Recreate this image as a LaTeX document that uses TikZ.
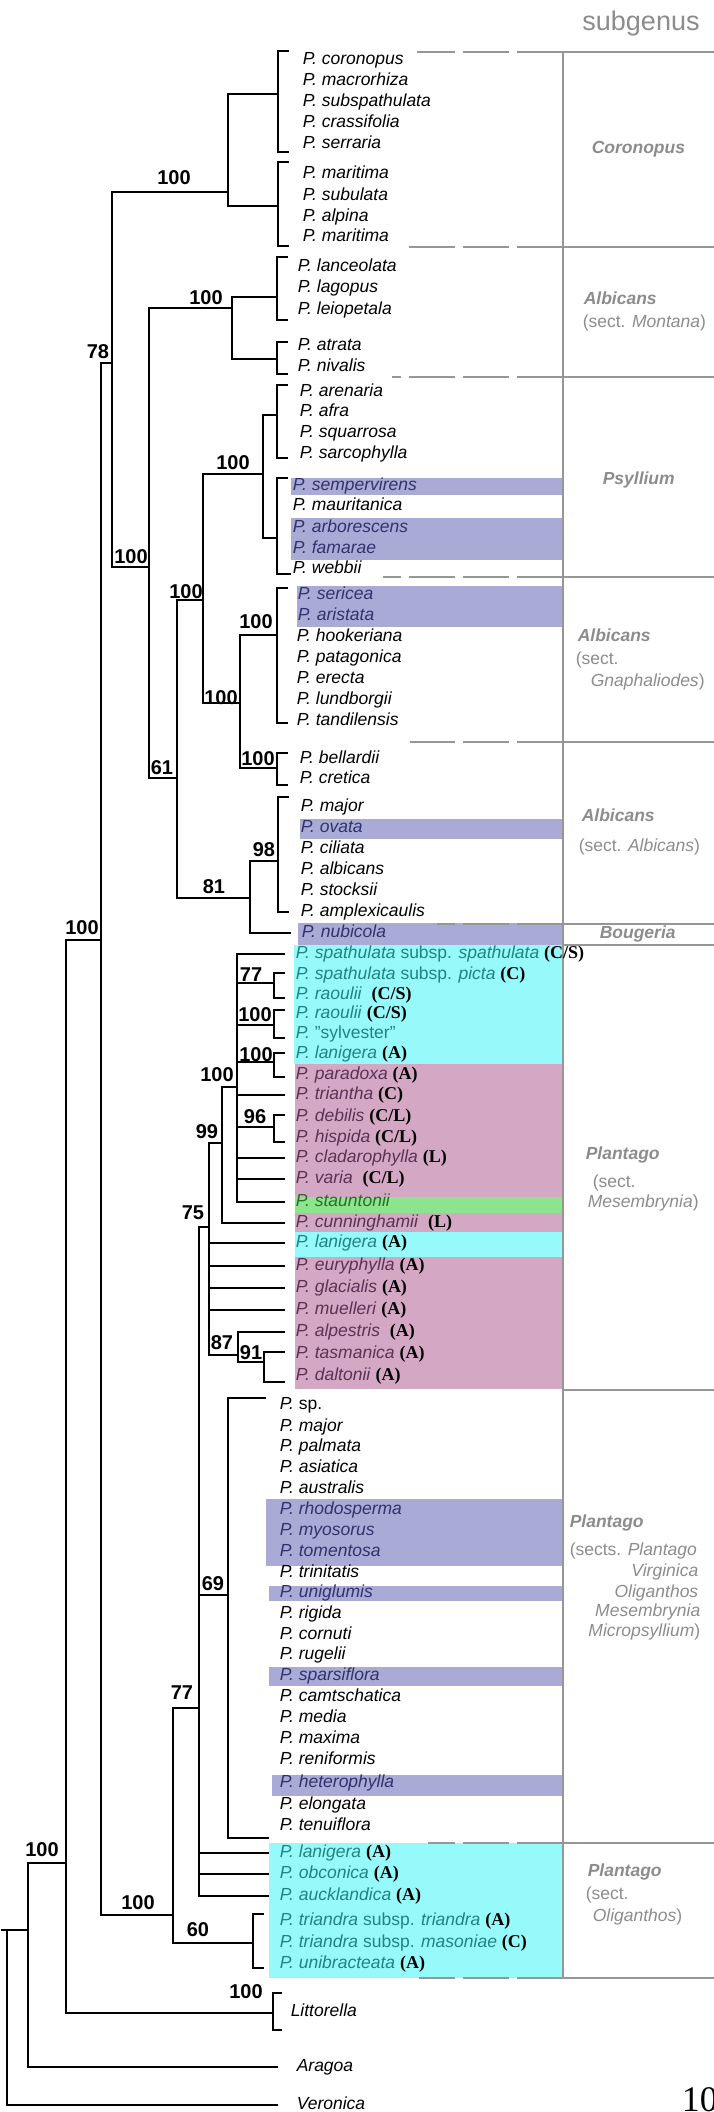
\documentclass[tikz,border=0pt]{standalone}
\usepackage{fontspec}
\setmainfont{Liberation Sans}
\newfontfamily\tnr{Liberation Serif}
\definecolor{hlpurple}{RGB}{170,170,214}
\definecolor{hlcyan}{RGB}{150,250,250}
\definecolor{hlpink}{RGB}{212,168,196}
\definecolor{hlgreen}{RGB}{140,228,140}
\definecolor{txpurple}{RGB}{50,50,110}
\definecolor{txcyan}{RGB}{35,130,130}
\definecolor{txpink}{RGB}{90,50,85}
\definecolor{txgreen}{RGB}{40,110,40}
\definecolor{subgray}{RGB}{140,140,140}
\definecolor{linegray}{RGB}{150,150,150}
\newcommand{\mk}[1]{{\color{black}\tnr\bfseries\fontsize{18}{20}\selectfont #1}}
\begin{document}
\begin{tikzpicture}[x=1pt, y=-1pt, line width=1.5pt,
  taxon/.style={anchor=west, inner sep=0pt, text height=12.5pt, text depth=3.7pt, font=\fontsize{17.5}{20}\selectfont},
  inpurple/.style={taxon, text=txpurple},
  incyan/.style={taxon, text=txcyan},
  inpink/.style={taxon, text=txpink},
  ingreen/.style={taxon, text=txgreen},
  boot/.style={inner sep=0pt, font=\fontsize{20}{22}\selectfont\bfseries},
  grp/.style={anchor=west, inner sep=0pt, text=subgray, font=\fontsize{17.5}{20}\selectfont\bfseries\itshape},
  sect/.style={anchor=west, inner sep=0pt, text=subgray, font=\fontsize{17.5}{20}\selectfont},
  sepline/.style={draw=linegray, line width=1.2pt},
  sepdash/.style={sepline, dash pattern=on 46pt off 8pt},
  leaf/.style={shorten >=10pt}]
\useasboundingbox (0,0) rectangle (714,2112);
% highlight bands
\fill[hlpurple] (291,478) rectangle (563,495);
\fill[hlpurple] (291,518) rectangle (563,560);
\fill[hlpurple] (297,586) rectangle (563,627);
\fill[hlpurple] (300,819) rectangle (563,839);
\fill[hlpurple] (298,923) rectangle (563,945);
\fill[hlcyan] (294,945) rectangle (563,1064);
\fill[hlpink] (295,1064) rectangle (563,1197);
\fill[hlgreen] (295,1197) rectangle (563,1213);
\fill[hlpink] (295,1213) rectangle (563,1232);
\fill[hlcyan] (295,1232) rectangle (563,1257);
\fill[hlpink] (295,1257) rectangle (563,1389);
\fill[hlpurple] (266,1499) rectangle (563,1566);
\fill[hlpurple] (269,1586) rectangle (563,1601);
\fill[hlpurple] (269,1667) rectangle (563,1686);
\fill[hlpurple] (272,1775) rectangle (563,1796);
\fill[hlcyan] (269,1843) rectangle (563,1978);
% subgenus column
\draw[sepline] (563,52) -- (563,1978);
\draw[sepdash] (563,52) -- (417,52);
\draw[sepline] (563,52) -- (714,52);
\draw[sepdash] (563,247) -- (405,247);
\draw[sepline] (563,247) -- (714,247);
\draw[sepdash] (563,377) -- (392,377);
\draw[sepline] (563,377) -- (714,377);
\draw[sepdash] (563,577) -- (383,577);
\draw[sepline] (563,577) -- (714,577);
\draw[sepdash] (563,742) -- (410,742);
\draw[sepline] (563,742) -- (714,742);
\draw[sepdash] (563,924) -- (437,924);
\draw[sepline] (563,924) -- (714,924);
\draw[sepline] (563,945) -- (714,945);
\draw[sepline] (563,1390) -- (714,1390);
\draw[sepdash] (563,1843) -- (428,1843);
\draw[sepline] (563,1843) -- (714,1843);
\draw[sepdash] (563,1978) -- (419,1978);
\draw[sepline] (563,1978) -- (714,1978);
% internal nodes
\coordinate (root) at (7,1930);
\coordinate (nX) at (28,1930);
\coordinate (nY) at (66,1863);
\coordinate (nZ) at (101,940);
\coordinate (nW) at (112,363);
\coordinate (coro) at (228,192);
\coordinate (nU) at (149,567);
\coordinate (mont) at (232,308);
\coordinate (nT) at (177,778);
\coordinate (nS) at (203,600);
\coordinate (psy) at (263,474);
\coordinate (nQ) at (240,703);
\coordinate (nR) at (250,898);
\coordinate (nV) at (173,1915);
\coordinate (nP) at (199,1708);
\coordinate (n75) at (209,1227);
\coordinate (n99) at (222,1143);
\coordinate (n100m) at (237,1087);
\coordinate (n87) at (238,1355);
% bracket joins
\coordinate (b1) at (278,94);
\coordinate (b2) at (278,206);
\coordinate (b3) at (277,297);
\coordinate (b4) at (277,359);
\coordinate (b5) at (277,415);
\coordinate (b6) at (277,538);
\coordinate (b7) at (277,635);
\coordinate (b8) at (277,768);
\coordinate (b9) at (278,861);
\coordinate (b10) at (274,983);
\coordinate (b11) at (274,1025);
\coordinate (b12) at (274,1062);
\coordinate (b13) at (274,1127);
\coordinate (b14) at (264,1362);
\coordinate (b15) at (228,1595);
\coordinate (b16) at (253,1943);
\coordinate (b17) at (273,2013);
% taxa
\node[taxon] (t01) at (302,60) {\textit{P. coronopus}};
\node[taxon] (t02) at (302,81) {\textit{P. macrorhiza}};
\node[taxon] (t03) at (302,102) {\textit{P. subspathulata}};
\node[taxon] (t04) at (302,123) {\textit{P. crassifolia}};
\node[taxon] (t05) at (302,144) {\textit{P. serraria}};
\node[taxon] (t06) at (302,174) {\textit{P. maritima}};
\node[taxon] (t07) at (302,196) {\textit{P. subulata}};
\node[taxon] (t08) at (302,217) {\textit{P. alpina}};
\node[taxon] (t09) at (302,237) {\textit{P. maritima}};
\node[taxon] (t10) at (297,267) {\textit{P. lanceolata}};
\node[taxon] (t11) at (297,288) {\textit{P. lagopus}};
\node[taxon] (t12) at (297,310) {\textit{P. leiopetala}};
\node[taxon] (t13) at (297,346) {\textit{P. atrata}};
\node[taxon] (t14) at (297,367) {\textit{P. nivalis}};
\node[taxon] (t15) at (299,392) {\textit{P. arenaria}};
\node[taxon] (t16) at (299,412) {\textit{P. afra}};
\node[taxon] (t17) at (299,433) {\textit{P. squarrosa}};
\node[taxon] (t18) at (299,454) {\textit{P. sarcophylla}};
\node[inpurple] (t19) at (292,486) {\textit{P. sempervirens}};
\node[taxon] (t20) at (292,506) {\textit{P. mauritanica}};
\node[inpurple] (t21) at (292,528) {\textit{P. arborescens}};
\node[inpurple] (t22) at (292,549) {\textit{P. famarae}};
\node[taxon] (t23) at (292,569) {\textit{P. webbii}};
\node[inpurple] (t24) at (297,595) {\textit{P. sericea}};
\node[inpurple] (t25) at (297,616) {\textit{P. aristata}};
\node[taxon] (t26) at (296,637) {\textit{P. hookeriana}};
\node[taxon] (t27) at (296,658) {\textit{P. patagonica}};
\node[taxon] (t28) at (296,679) {\textit{P. erecta}};
\node[taxon] (t29) at (296,700) {\textit{P. lundborgii}};
\node[taxon] (t30) at (296,721) {\textit{P. tandilensis}};
\node[taxon] (t31) at (299,759) {\textit{P. bellardii}};
\node[taxon] (t32) at (299,779) {\textit{P. cretica}};
\node[taxon] (t33) at (300,807) {\textit{P. major}};
\node[inpurple] (t34) at (300,828) {\textit{P. ovata}};
\node[taxon] (t35) at (300,849) {\textit{P. ciliata}};
\node[taxon] (t36) at (300,870) {\textit{P. albicans}};
\node[taxon] (t37) at (300,891) {\textit{P. stocksii}};
\node[taxon] (t38) at (300,912) {\textit{P. amplexicaulis}};
\node[inpurple] (t39) at (301,933) {\textit{P. nubicola}};
\node[incyan] (t40) at (295,954) {\textit{P. spathulata} subsp. \textit{spathulata} \mk{(C/S)}};
\node[incyan] (t41) at (295,975) {\textit{P. spathulata} subsp. \textit{picta} \mk{(C)}};
\node[incyan] (t42) at (295,995) {\textit{P. raoulii} \ \mk{(C/S)}};
\node[incyan] (t43) at (295,1014) {\textit{P. raoulii} \mk{(C/S)}};
\node[incyan] (t44) at (295,1034) {\textit{P.} "sylvester"};
\node[incyan] (t45) at (295,1054) {\textit{P. lanigera} \mk{(A)}};
\node[inpink] (t46) at (295,1075) {\textit{P. paradoxa} \mk{(A)}};
\node[inpink] (t47) at (295,1095) {\textit{P. triantha} \mk{(C)}};
\node[inpink] (t48) at (295,1117) {\textit{P. debilis} \mk{(C/L)}};
\node[inpink] (t49) at (295,1138) {\textit{P. hispida} \mk{(C/L)}};
\node[inpink] (t50) at (295,1158) {\textit{P. cladarophylla} \mk{(L)}};
\node[inpink] (t51) at (295,1179) {\textit{P. varia} \ \mk{(C/L)}};
\node[ingreen] (t52) at (295,1202) {\textit{P. stauntonii}};
\node[inpink] (t53) at (295,1223) {\textit{P. cunninghamii} \ \mk{(L)}};
\node[incyan] (t54) at (295,1243) {\textit{P. lanigera} \mk{(A)}};
\node[inpink] (t55) at (295,1266) {\textit{P. euryphylla} \mk{(A)}};
\node[inpink] (t56) at (295,1288) {\textit{P. glacialis} \mk{(A)}};
\node[inpink] (t57) at (295,1310) {\textit{P. muelleri} \mk{(A)}};
\node[inpink] (t58) at (295,1332) {\textit{P. alpestris} \ \mk{(A)}};
\node[inpink] (t59) at (295,1354) {\textit{P. tasmanica} \mk{(A)}};
\node[inpink] (t60) at (295,1376) {\textit{P. daltonii} \mk{(A)}};
\node[taxon] (t61) at (279,1405) {\textit{P.} sp.};
\node[taxon] (t62) at (279,1427) {\textit{P. major}};
\node[taxon] (t63) at (279,1447) {\textit{P. palmata}};
\node[taxon] (t64) at (279,1468) {\textit{P. asiatica}};
\node[taxon] (t65) at (279,1489) {\textit{P. australis}};
\node[inpurple] (t66) at (279,1510) {\textit{P. rhodosperma}};
\node[inpurple] (t67) at (279,1531) {\textit{P. myosorus}};
\node[inpurple] (t68) at (279,1552) {\textit{P. tomentosa}};
\node[taxon] (t69) at (279,1573) {\textit{P. trinitatis}};
\node[inpurple] (t70) at (279,1593) {\textit{P. uniglumis}};
\node[taxon] (t71) at (279,1614) {\textit{P. rigida}};
\node[taxon] (t72) at (279,1635) {\textit{P. cornuti}};
\node[taxon] (t73) at (279,1655) {\textit{P. rugelii}};
\node[inpurple] (t74) at (279,1676) {\textit{P. sparsiflora}};
\node[taxon] (t75) at (279,1697) {\textit{P. camtschatica}};
\node[taxon] (t76) at (279,1718) {\textit{P. media}};
\node[taxon] (t77) at (279,1739) {\textit{P. maxima}};
\node[taxon] (t78) at (279,1760) {\textit{P. reniformis}};
\node[inpurple] (t79) at (279,1783) {\textit{P. heterophylla}};
\node[taxon] (t80) at (279,1805) {\textit{P. elongata}};
\node[taxon] (t81) at (279,1826) {\textit{P. tenuiflora}};
\node[incyan] (t82) at (279,1853) {\textit{P. lanigera} \mk{(A)}};
\node[incyan] (t83) at (279,1874) {\textit{P. obconica} \mk{(A)}};
\node[incyan] (t84) at (279,1896) {\textit{P. aucklandica} \mk{(A)}};
\node[incyan] (t85) at (279,1921) {\textit{P. triandra} subsp. \textit{triandra} \mk{(A)}};
\node[incyan] (t86) at (279,1943) {\textit{P. triandra} subsp. \textit{masoniae} \mk{(C)}};
\node[incyan] (t87) at (279,1964) {\textit{P. unibracteata} \mk{(A)}};
\node[taxon] (t88) at (290,2012) {\textit{Littorella}};
\node[taxon] (t89) at (296,2067) {\textit{Aragoa}};
\node[taxon] (t90) at (296,2105) {\textit{Veronica}};
% tree
\draw (root) -- +(-6,0);
\draw (root) |- (nX);
\draw[leaf, shorten >=18pt] (root) |- (t90);
\draw[leaf, shorten >=18pt] (nX) |- (t89);
\draw (nX) |- (nY);
\draw (nY) |- (nZ);
\draw (nY) |- (b17);
\draw (nZ) |- (nW);
\draw (nZ) |- (nV);
\draw (nW) |- (coro);
\draw (nW) |- (nU);
\draw (coro) |- (b1);
\draw (coro) |- (b2);
\draw (nU) |- (mont);
\draw (nU) |- (nT);
\draw (mont) |- (b3);
\draw (mont) |- (b4);
\draw (nT) |- (nS);
\draw (nT) |- (nR);
\draw (nS) |- (psy);
\draw (nS) |- (nQ);
\draw (psy) |- (b5);
\draw (psy) |- (b6);
\draw (nQ) |- (b7);
\draw (nQ) |- (b8);
\draw (nR) |- (b9);
\draw[leaf] (nR) |- (t39);
\draw (nV) |- (nP);
\draw (nV) |- (b16);
\draw (nP) |- (n75);
\draw (nP) |- (b15);
\draw[leaf] (nP) |- (t82);
\draw[leaf] (nP) |- (t83);
\draw[leaf] (nP) |- (t84);
\draw (n75) |- (n99);
\draw[leaf] (n75) |- (t54);
\draw[leaf] (n75) |- (t55);
\draw[leaf] (n75) |- (t56);
\draw[leaf] (n75) |- (t57);
\draw (n75) |- (n87);
\draw (n99) |- (n100m);
\draw[leaf] (n99) |- (t53);
\draw[leaf] (n100m) |- (t40);
\draw (n100m) |- (b10);
\draw (n100m) |- (b11);
\draw (n100m) |- (b12);
\draw[leaf] (n100m) |- (t47);
\draw (n100m) |- (b13);
\draw[leaf] (n100m) |- (t50);
\draw[leaf] (n100m) |- (t51);
\draw[leaf] (n100m) |- (t52);
\draw[leaf] (n87) |- (t58);
\draw (n87) |- (b14);
% brackets
\draw (b1) |- +(11,-43) (b1) |- +(11,58);
\draw (b2) |- +(11,-44) (b2) |- +(11,40);
\draw (b3) |- +(11,-40) (b3) |- +(11,23);
\draw (b4) |- +(11,-17) (b4) |- +(11,15);
\draw (b5) |- +(11,-30) (b5) |- +(11,43);
\draw (b6) |- +(11,-60) (b6) |- +(14,36);
\draw (b7) |- +(11,-47) (b7) |- +(11,88);
\draw (b8) |- +(11,-15) (b8) |- +(11,17);
\draw (b9) |- +(11,-64) (b9) |- +(11,51);
\draw (b10) |- +(11,-10) (b10) |- +(11,15);
\draw (b11) |- +(11,-15) (b11) |- +(11,13);
\draw (b12) |- +(11,-9) (b12) |- +(11,15);
\draw (b13) |- +(11,-12) (b13) |- +(11,15);
\draw (b14) |- +(21,-10) (b14) |- +(21,20);
\draw (b15) |- +(38,-197) (b15) |- +(41,243);
\draw (b16) |- +(11,-29) (b16) |- +(11,25);
\draw (b17) |- +(9,-20) (b17) |- +(9,17);
% support values
\node[boot] (scoro) at (174,178) {100};
\node[boot] (sW) at (98,352) {78};
\node[boot] (smont) at (206,298) {100};
\node[boot] (spsy) at (233,463) {100};
\node[boot] (sU) at (131,557) {100};
\node[boot] (sS) at (186,592) {100};
\node[boot] (sgna) at (256,622) {100};
\node[boot] (sQ) at (221,698) {100};
\node[boot] (sT) at (162,768) {61};
\node[boot] (sbel) at (258,759) {100};
\node[boot] (salb) at (264,850) {98};
\node[boot] (sR) at (214,887) {81};
\node[boot] (sZ) at (82,928) {100};
\node[boot] (s77a) at (251,975) {77};
\node[boot] (srao) at (255,1015) {100};
\node[boot] (slan) at (256,1055) {100};
\node[boot] (smes) at (217,1075) {100};
\node[boot] (s96) at (255,1117) {96};
\node[boot] (s99) at (207,1132) {99};
\node[boot] (s75) at (193,1213) {75};
\node[boot] (s87) at (222,1343) {87};
\node[boot] (s91) at (251,1353) {91};
\node[boot] (s69) at (213,1584) {69};
\node[boot] (s77b) at (182,1693) {77};
\node[boot] (sY) at (42,1850) {100};
\node[boot] (sV) at (138,1903) {100};
\node[boot] (s60) at (198,1930) {60};
\node[boot] (slit) at (246,1992) {100};
% subgenus labels
\node[inner sep=0pt, text=subgray, font=\fontsize{27}{30}\selectfont] (head) at (641,24) {subgenus};
\node[grp] (g1) at (591,149) {Coronopus};
\node[grp] (g2) at (583,298) {Albicans};
\node[sect] (g2s) at (582,323) {(sect. \textit{Montana})};
\node[grp] (g3) at (602,480) {Psyllium};
\node[grp] (g4) at (577,635) {Albicans};
\node[sect] (g4s) at (575,660) {(sect.};
\node[sect] (g4t) at (590,682) {\textit{Gnaphaliodes})};
\node[grp] (g5) at (581,815) {Albicans};
\node[sect] (g5s) at (578,847) {(sect. \textit{Albicans})};
\node[grp] (g6) at (599,934) {Bougeria};
\node[grp] (g7) at (585,1155) {Plantago};
\node[sect] (g7s) at (592,1183) {(sect.};
\node[sect] (g7t) at (587,1203) {\textit{Mesembrynia})};
\node[grp] (g8) at (569,1523) {Plantago};
\node[sect] (g8s) at (569,1551) {(sects. \textit{Plantago}};
\node[sect, anchor=east] (g8t) at (699,1572) {\textit{Virginica}};
\node[sect, anchor=east] (g8u) at (699,1593) {\textit{Oliganthos}};
\node[sect, anchor=east] (g8v) at (701,1612) {\textit{Mesembrynia}};
\node[sect, anchor=east] (g8w) at (701,1632) {\textit{Micropsyllium})};
\node[grp] (g9) at (587,1872) {Plantago};
\node[sect] (g9s) at (585,1895) {(sect.};
\node[sect] (g9t) at (592,1917) {\textit{Oliganthos})};
\node[anchor=base west, inner sep=0pt, font=\tnr\fontsize{36}{38}\selectfont] (pg) at (681,2111) {10};
\end{tikzpicture}
\end{document}
